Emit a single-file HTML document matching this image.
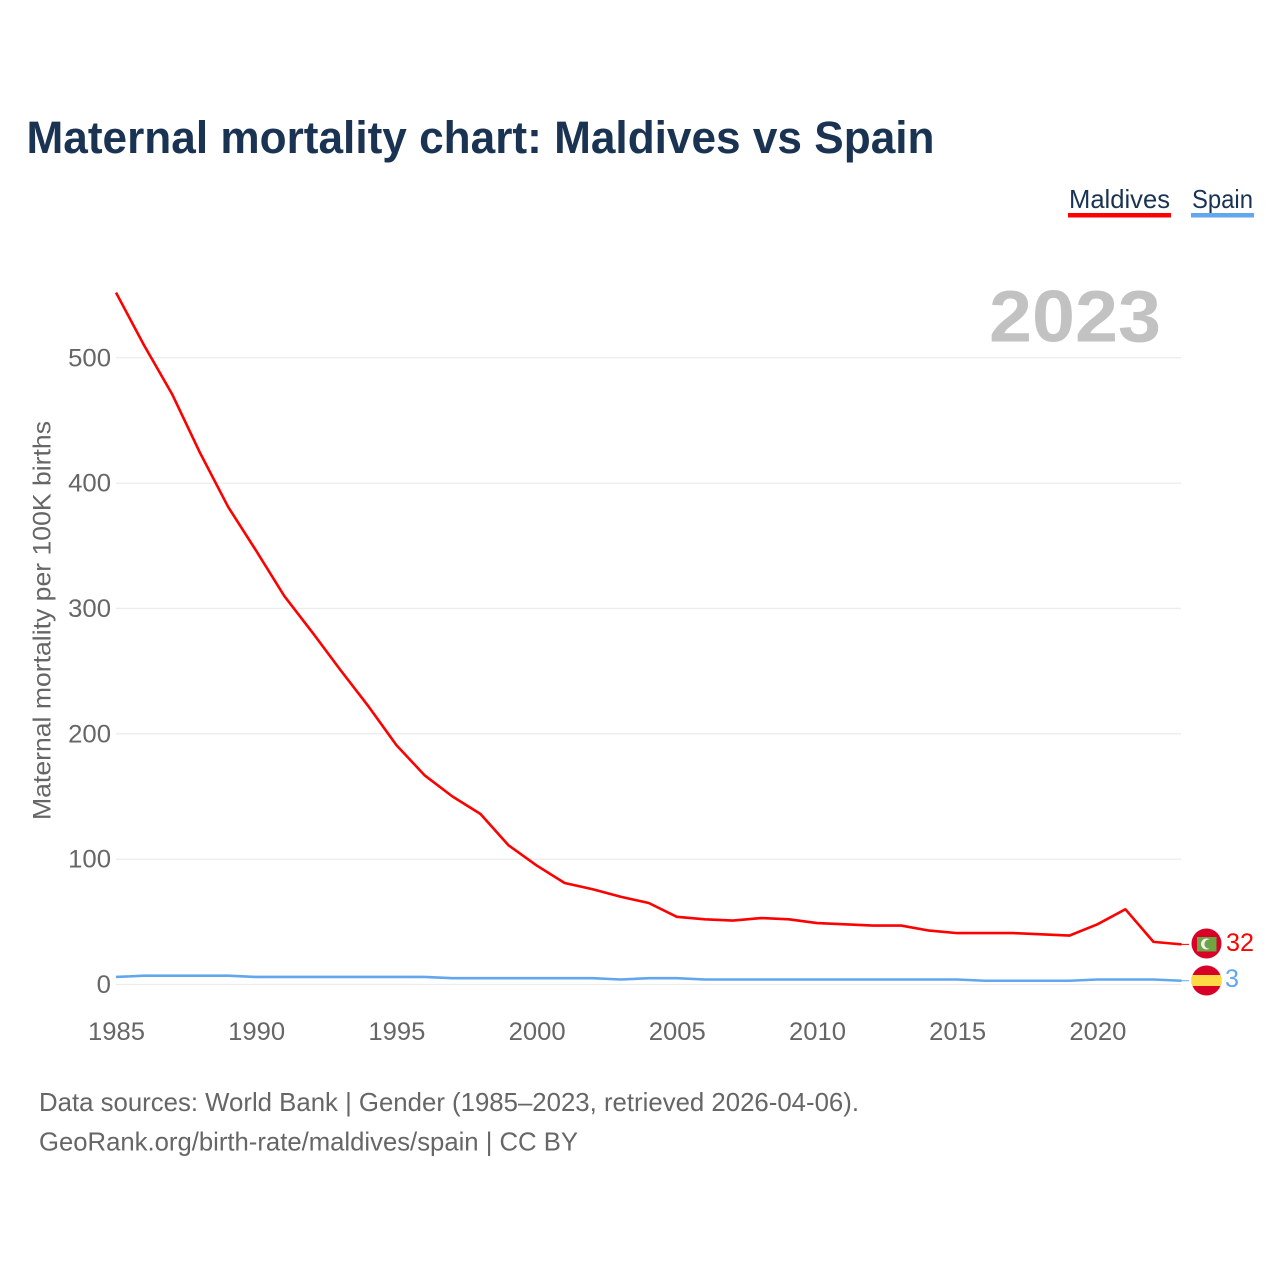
<!DOCTYPE html>
<html lang="en">
<head>
<meta charset="utf-8">
<title>Maternal mortality chart: Maldives vs Spain</title>
<style>
html,body{margin:0;padding:0;background:#fff;}
svg{display:block;font-family:"Liberation Sans",sans-serif;}
</style>
</head>
<body>
<svg id="chart" xmlns="http://www.w3.org/2000/svg" width="1280" height="1280" viewBox="0 0 1280 1280">
  <rect x="0" y="0" width="1280" height="1280" fill="#ffffff"/>
  <text x="26.5" y="153" font-size="45" font-weight="700" fill="#1a3353" textLength="908" lengthAdjust="spacingAndGlyphs">Maternal mortality chart: Maldives vs Spain</text>
  <g>
    <text x="1069" y="208" font-size="26" fill="#1a3353" textLength="101" lengthAdjust="spacingAndGlyphs">Maldives</text>
    <rect x="1068" y="213" width="103" height="4.5" fill="#ff0000"/>
  </g>
  <g>
    <text x="1192" y="208" font-size="26" fill="#1a3353" textLength="61" lengthAdjust="spacingAndGlyphs">Spain</text>
    <rect x="1191" y="213" width="63" height="4.5" fill="#62a6ee"/>
  </g>
  <g id="grid"></g>
  <g id="yticks"></g>
  <g id="xticks"></g>
  <text transform="translate(50.5 820) rotate(-90)" x="0" y="0" font-size="25" fill="#666666" textLength="399" lengthAdjust="spacingAndGlyphs">Maternal mortality per 100K births</text>
  <text x="989" y="341.5" font-size="73" font-weight="700" fill="#c2c2c2" textLength="172" lengthAdjust="spacingAndGlyphs">2023</text>
  <g id="series"></g>
  <g>
    <circle cx="1206.5" cy="943.5" r="15" fill="#d80027"/>
    <rect x="1197" y="937" width="19.5" height="14.5" fill="#6da544"/>
    <circle cx="1206.5" cy="944" r="5.5" fill="#f0f0f0"/>
    <circle cx="1209" cy="944" r="4.6" fill="#6da544"/>
  </g>
  <g>
    <clipPath id="spain-clip"><circle cx="1206.5" cy="980.5" r="15"/></clipPath>
    <circle cx="1206.5" cy="980.5" r="15" fill="#d80027"/>
    <rect x="1191" y="975" width="31" height="11" fill="#ffda44" clip-path="url(#spain-clip)"/>
  </g>
  <text x="1226" y="951" font-size="25" fill="#ff0000" textLength="28" lengthAdjust="spacingAndGlyphs">32</text>
  <text x="1225" y="987" font-size="25" fill="#62a6ee" textLength="14" lengthAdjust="spacingAndGlyphs">3</text>
  <text x="39" y="1111" font-size="26" fill="#666666" textLength="820" lengthAdjust="spacingAndGlyphs">Data sources: World Bank | Gender (1985–2023, retrieved 2026-04-06).</text>
  <text x="39" y="1150.5" font-size="26" fill="#666666" textLength="539" lengthAdjust="spacingAndGlyphs">GeoRank.org/birth-rate/maldives/spain | CC BY</text>
</svg>
<script>
var years = [1985,1986,1987,1988,1989,1990,1991,1992,1993,1994,1995,1996,1997,1998,1999,2000,2001,2002,2003,2004,2005,2006,2007,2008,2009,2010,2011,2012,2013,2014,2015,2016,2017,2018,2019,2020,2021,2022,2023];
var maldivesValues = [552,510,471,424,381,346,310,281,251,222,191,167,150,136,111,95,81,76,70,65,54,52,51,53,52,49,48,47,47,43,41,41,41,40,39,48,60,34,32];
var spainValues = [6,7,7,7,7,6,6,6,6,6,6,6,5,5,5,5,5,5,4,5,5,4,4,4,4,4,4,4,4,4,4,3,3,3,3,4,4,4,3];
var yTickValues = [0,100,200,300,400,500];
var xTickValues = [1985,1990,1995,2000,2005,2010,2015,2020];

var NS = 'http://www.w3.org/2000/svg';
function xScale(year){ return 116 + (year - 1985) * 28.04; }
function yScale(value){ return 984.5 - value * 1.2535; }
function make(tag, attrs, parent){
  var el = document.createElementNS(NS, tag);
  for (var k in attrs){ el.setAttribute(k, attrs[k]); }
  parent.appendChild(el);
  return el;
}
var gridG = document.getElementById('grid');
var yG = document.getElementById('yticks');
var xG = document.getElementById('xticks');
var seriesG = document.getElementById('series');

yTickValues.forEach(function(v){
  var line = make('line', {x1:116, x2:1181, y1:yScale(v), y2:yScale(v), stroke:'#ececec', 'stroke-width':1.3}, gridG);
  
  
  var label = make('text', {x:111, y:yScale(v) + 8.5, 'font-size':25, fill:'#666666', 'text-anchor':'end', textLength:String(v).length * 14.3, lengthAdjust:'spacingAndGlyphs'}, yG);
  label.textContent = String(v);
  
  
});
xTickValues.forEach(function(v){
  var label = make('text', {x:xScale(v) + 0.5, y:1040, 'font-size':25, fill:'#666666', 'text-anchor':'middle', textLength:57, lengthAdjust:'spacingAndGlyphs'}, xG);
  label.textContent = String(v);
  
  
});
function pathFor(values){
  return values.map(function(v, i){
    return (i ? 'L' : 'M') + xScale(years[i]).toFixed(2) + ' ' + yScale(v).toFixed(2);
  }).join(' ');
}
var spainLine = make('path', {d:pathFor(spainValues), fill:'none', stroke:'#62a6ee', 'stroke-width':2.6, 'stroke-linejoin':'round'}, seriesG);


var maldivesLine = make('path', {d:pathFor(maldivesValues), fill:'none', stroke:'#ff0000', 'stroke-width':2.6, 'stroke-linejoin':'round'}, seriesG);


var lastIndex = years.length - 1;
var leaderM = make('line', {x1:xScale(years[lastIndex]), x2:1189, y1:yScale(maldivesValues[lastIndex]), y2:yScale(maldivesValues[lastIndex]), stroke:'#ff0000', 'stroke-width':1}, seriesG);


var leaderS = make('line', {x1:xScale(years[lastIndex]), x2:1189, y1:yScale(spainValues[lastIndex]), y2:yScale(spainValues[lastIndex]), stroke:'#62a6ee', 'stroke-width':1}, seriesG);


</script>
</body>
</html>
